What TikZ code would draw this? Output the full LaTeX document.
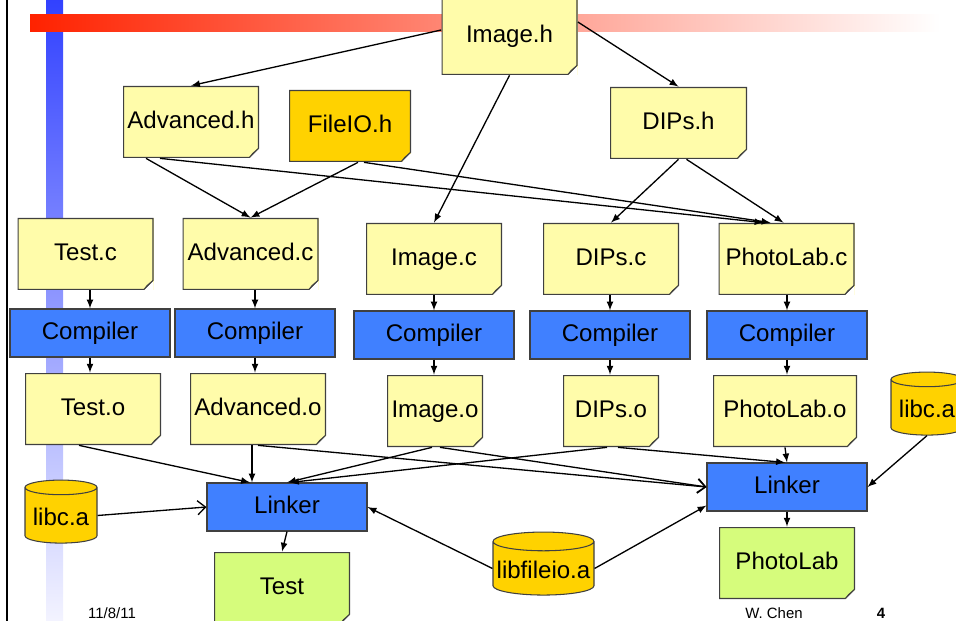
\documentclass[tikz,border=0pt]{standalone}
\usepackage{fontspec}
\setmainfont{Liberation Sans}
\usetikzlibrary{arrows, arrows.meta, positioning, shapes.geometric, calc}
\newcommand{\pxu}{0.02cm}
\definecolor{noteyellow}{HTML}{FFFCAA}
\definecolor{notefold}{HTML}{E2DA8C}
\definecolor{liborange}{HTML}{FFD200}
\definecolor{toolblue}{HTML}{4080FF}
\definecolor{exegreen}{HTML}{D6FC7C}
\definecolor{edgegray}{HTML}{404040}

\begin{document}
\begin{tikzpicture}[
                x=\pxu, y=-\pxu,
                font=\fontsize{13.7}{16}\selectfont,
                box/.style = {text height=10pt, text depth=3pt},
                note/.style = {box, fill=#1, inner sep=0pt, minimum width=136*\pxu, minimum height=72*\pxu,
                  path picture={
                    \coordinate (nw) at ([shift={(0.3pt,-0.3pt)}]path picture bounding box.north west);
                    \coordinate (se) at ([shift={(-0.3pt,0.3pt)}]path picture bounding box.south east);
                    \fill[white] ([xshift=-9*\pxu]se) -- ([shift={(1pt,-1pt)}]se) -- ([yshift=9*\pxu]se) -- cycle;
                    \draw[edgegray, line width=0.6pt] (nw) -- (nw -| se) -- ([yshift=9*\pxu]se)
                      -- ([xshift=-9*\pxu]se) -- (nw |- se) -- cycle;
                    \draw[edgegray, line width=0.4pt, fill=notefold] ([xshift=-9*\pxu]se)
                      -- ([yshift=9*\pxu]se) -- ([shift={(-6*\pxu,4*\pxu)}]se) -- cycle;
                  }},
                note/.default = noteyellow,
                tool/.style = {box, draw=edgegray, fill=toolblue, line width=0.6pt, minimum width=160*\pxu, minimum height=48*\pxu},
                lib/.style = {text height=14pt, text depth=3pt, cylinder, shape border rotate=90, aspect=0.26,
                  draw=edgegray, fill=liborange, line width=0.6pt, inner sep=0pt, minimum width=72*\pxu, minimum height=63*\pxu},
                arrow/.style = {->, >=latex, line width=0.75pt},
                openarrow/.style = {-{Straight Barb[length=4.5pt, width=8pt]}, line width=0.75pt}
              ]
              \useasboundingbox (0,0) rectangle (956,621);
              % Slide background
              \fill[black] (6,-5) rectangle (8,630);
              \shade[top color={rgb,255:red,48;green,64;blue,255}, bottom color={rgb,255:red,246;green,246;blue,255}] (46,-5) rectangle (63,630);
              \shade[left color={rgb,255:red,255;green,34;blue,0}, right color=white] (30,15) rectangle (940,32);
              % Headers
              \node[note, minimum height=78*\pxu] (imageh) at (509.5,36) {Image.h};
              \node[note] (advh) at (191,122) {Advanced.h};
              \node[note=liborange, minimum width=122*\pxu] (fileioh) at (350,126) {FileIO.h};
              \node[note, minimum width=137*\pxu] (dipsh) at (678.5,123) {DIPs.h};
              % Sources
              \node[note] (ctest) at (85.5,254) {Test.c};
              \node[note] (cadv) at (250.5,254) {Advanced.c};
              \node[note] (cimage) at (434,259) {Image.c};
              \node[note] (cdips) at (611,259) {DIPs.c};
              \node[note] (cphoto) at (786.5,259) {PhotoLab.c};
              % Compilers
              \node[tool] (comptest) at (90,333) {Compiler};
              \node[tool] (compadv) at (255,333) {Compiler};
              \node[tool] (compimage) at (434,335) {Compiler};
              \node[tool] (compdips) at (610,335) {Compiler};
              \node[tool] (compphoto) at (787,335) {Compiler};
              % Objects
              \node[note] (otest) at (93,409) {Test.o};
              \node[note] (oadv) at (258,409) {Advanced.o};
              \node[note, minimum width=96*\pxu] (oimage) at (435,411) {Image.o};
              \node[note, minimum width=96*\pxu] (odips) at (611,411) {DIPs.o};
              \node[note, minimum width=144*\pxu] (ophoto) at (785,411) {PhotoLab.o};
              % Linking
              \node[tool] (link1) at (287,507) {Linker};
              \node[tool] (link2) at (787,487) {Linker};
              \node[lib] (libcl) at (61,515.5) {libc.a};
              \node[lib] (libcr) at (927,407.5) {libc.a};
              \node[lib, aspect=0.2, minimum width=101*\pxu] (libfileio) at (543.5,568.5) {libfileio.a};
              \node[note=exegreen] (xtest) at (282,588) {Test};
              \node[note=exegreen] (xphoto) at (787,563) {PhotoLab};
              % Footer
              \node[font=\fontsize{8.5}{10}\selectfont] (date) at (112,613) {11/8/11};
              \node[font=\fontsize{8.5}{10}\selectfont] (author) at (774,613) {W. Chen};
              \node[font=\fontsize{8.5}{10}\selectfont\bfseries] (pageno) at (881,613) {4};
              % Includes
              \draw[arrow] ([yshift=6*\pxu]imageh.west) -- (advh.north);
              \draw[arrow] ([yshift=14*\pxu]imageh.east) -- (dipsh.north);
              \draw[arrow] (imageh.south) -- (cimage.north);
              \draw[arrow] ([xshift=-45*\pxu]advh.south) -- (cadv.north);
              \draw[arrow] ([xshift=8*\pxu]fileioh.south) -- (cadv.north);
              \draw[arrow] ([xshift=-31*\pxu]advh.south) -- ([xshift=-23*\pxu]cphoto.north);
              \draw[arrow] ([xshift=14*\pxu]fileioh.south) -- ([xshift=-16*\pxu]cphoto.north);
              \draw[arrow] (dipsh.south) -- (cdips.north);
              \draw[arrow] ([xshift=8*\pxu]dipsh.south) -- ([xshift=-3*\pxu]cphoto.north);
              % Compile steps
              \foreach \f in {test,adv,image,dips,photo}{
                \draw[arrow] (c\f.south -| comp\f.north) -- (comp\f.north);
                \draw[arrow] (comp\f.south) -- (comp\f.south |- o\f.north);
              }
              % Link steps
              \draw[arrow] ([xshift=-14*\pxu]otest.south) -- ([xshift=-37*\pxu]link1.north);
              \draw[arrow] ([xshift=-6*\pxu]oadv.south) -- ([xshift=-35*\pxu]link1.north);
              \draw[arrow] ([xshift=-3*\pxu]oimage.south) -- (link1.north);
              \draw[arrow] ([xshift=-4*\pxu]odips.south) -- ([xshift=3*\pxu]link1.north);
              \draw[openarrow] (oadv.south) -- (link2.west);
              \draw[openarrow] ([xshift=5*\pxu]oimage.south) -- (link2.west);
              \draw[arrow] ([xshift=7*\pxu]odips.south) -- ([xshift=-2*\pxu]link2.north);
              \draw[arrow] (ophoto.south) -- (link2.north);
              \draw[arrow] (libcr.south) -- (link2.east);
              \draw[arrow] (libfileio.east) -- ([yshift=6*\pxu]link2.south west);
              \draw[arrow] (libfileio.west) -- (link1.east);
              \draw[openarrow] (libcl.east) -- (link1.west);
              \draw[arrow] (link1.south) -- (xtest.north);
              \draw[arrow] (link2.south) -- (xphoto.north);
            \end{tikzpicture}
\end{document}
